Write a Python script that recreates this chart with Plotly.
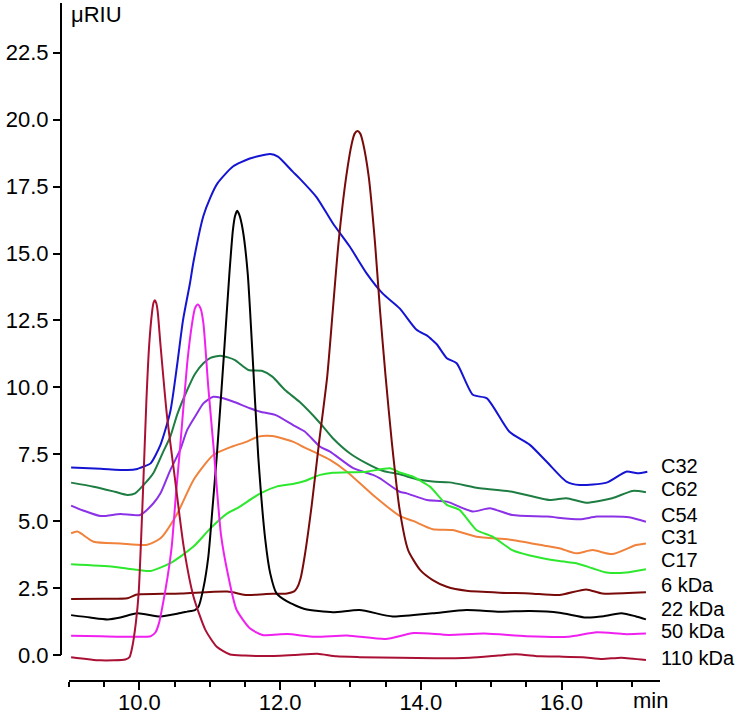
import plotly.graph_objects as go

# ---------------- data ----------------
c32_t = [9.03, 9.45, 9.83, 9.97, 10.06, 10.16, 10.3, 10.44, 10.54, 10.62, 10.72, 10.77, 10.91, 11.01, 11.11, 11.33,
         11.57, 11.86, 11.97, 12.18, 12.28, 12.52, 12.75, 12.99, 13.23, 13.46, 13.7, 13.94, 14.09, 14.17, 14.23, 14.37,
         14.51, 14.74, 14.94, 15.26, 15.55, 15.79, 16.07, 16.26, 16.64, 16.92, 17.08, 17.22]
c32_v = [7.01, 6.96, 6.91, 6.95, 7.04, 7.16, 7.85, 9.1, 10.9, 12.5, 13.9, 14.7, 16.4, 17.1, 17.62, 18.25,
         18.55, 18.72, 18.62, 18.06, 17.8, 17.1, 16.13, 15.26, 14.26, 13.5, 12.95, 12.15, 11.93, 11.75, 11.6, 11.09,
         10.9, 9.72, 9.59, 8.34, 7.85, 7.22, 6.48, 6.35, 6.44, 6.85, 6.79, 6.85]

c62_t = [9.03, 9.35, 9.65, 9.83, 9.94, 10.11, 10.2, 10.34, 10.44, 10.54, 10.68, 10.79, 10.91, 11.01, 11.15, 11.26,
         11.36, 11.55, 11.74, 11.89, 12.07, 12.28, 12.57, 12.75, 12.99, 13.23, 13.46, 13.7, 13.94, 14.17, 14.41,
         14.84, 15.3, 15.83, 16.07, 16.35, 16.72, 17.01, 17.2]
c62_v = [6.44, 6.29, 6.1, 5.98, 6.04, 6.5, 6.8, 7.6, 8.16, 9.0, 9.9, 10.5, 10.9, 11.1, 11.18, 11.12,
         11.02, 10.65, 10.62, 10.4, 9.9, 9.45, 8.66, 8.1, 7.54, 7.16, 6.88, 6.75, 6.57, 6.48, 6.45,
         6.23, 6.1, 5.79, 5.86, 5.69, 5.86, 6.13, 6.08]

c54_t = [9.03, 9.2, 9.45, 9.73, 10.01, 10.2, 10.3, 10.44, 10.58, 10.68, 10.82, 10.91, 11.05, 11.18, 11.33, 11.57,
         11.72, 11.93, 12.18, 12.35, 12.57, 12.71, 13.04, 13.32, 13.42, 13.7, 13.8, 14.09, 14.37, 14.74, 14.98,
         15.3, 15.79, 16.26, 16.5, 16.96, 17.2]
c54_v = [5.58, 5.4, 5.19, 5.27, 5.23, 5.67, 6.04, 6.91, 7.66, 8.41, 9.03, 9.4, 9.65, 9.6, 9.47, 9.22,
         9.09, 8.97, 8.6, 8.35, 7.78, 7.6, 6.98, 6.73, 6.6, 6.1, 6.04, 5.79, 5.73, 5.36, 5.48,
         5.23, 5.17, 5.07, 5.17, 5.15, 4.98]

c31_t = [9.03, 9.12, 9.35, 9.73, 10.11, 10.3, 10.54, 10.77, 11.05, 11.33, 11.53, 11.69, 11.89, 12.18, 12.35, 12.52,
         12.71, 12.95, 13.32, 13.7, 13.89, 14.17, 14.45, 14.79, 15.3, 15.79, 15.97, 16.21, 16.44, 16.72, 17.06, 17.2]
c31_v = [4.55, 4.61, 4.23, 4.17, 4.12, 4.36, 5.29, 6.54, 7.47, 7.8, 7.97, 8.16, 8.18, 7.97, 7.75, 7.54,
         7.29, 6.85, 5.98, 5.2, 5.01, 4.7, 4.67, 4.42, 4.3, 4.07, 3.99, 3.8, 3.92, 3.77, 4.11, 4.17]

c17_t = [9.03, 9.63, 9.91, 10.16, 10.44, 10.77, 11.01, 11.25, 11.4, 11.72, 11.96, 12.18, 12.35, 12.57, 12.75, 13.23,
         13.56, 13.7, 13.89, 14.13, 14.37, 14.55, 14.79, 15.02, 15.3, 15.55, 15.97, 16.21, 16.44, 16.64, 16.92, 17.2]
c17_v = [3.39, 3.3, 3.2, 3.14, 3.43, 4.05, 4.73, 5.29, 5.5, 6.04, 6.3, 6.39, 6.5, 6.73, 6.81, 6.85,
         6.98, 6.82, 6.66, 6.29, 5.61, 5.42, 4.67, 4.42, 3.92, 3.72, 3.51, 3.43, 3.24, 3.08, 3.08, 3.2]

k6_t = [9.03, 9.5, 9.83, 9.95, 10.01, 10.6, 11.25, 11.53, 11.8, 12.1, 12.2, 12.24, 12.29, 12.35, 12.45, 12.55,
        12.67, 12.75, 12.83, 12.94, 13.02, 13.06, 13.1, 13.14, 13.18, 13.26, 13.35, 13.42, 13.5, 13.59, 13.7,
        13.82, 13.99, 14.17, 14.37, 14.65, 15.12, 15.55, 15.97, 16.35, 16.58, 17.2]
k6_v = [2.09, 2.1, 2.12, 2.25, 2.27, 2.3, 2.37, 2.24, 2.28, 2.3, 2.38, 2.5, 2.85, 3.7, 5.6, 7.85,
        10.4, 12.89, 15.38, 17.87, 19.12, 19.48, 19.58, 19.48, 19.12, 17.87, 15.38, 12.89, 10.4, 7.91, 5.42,
        3.92, 3.18, 2.8, 2.55, 2.4, 2.33, 2.3, 2.24, 2.45, 2.3, 2.34]

k22_t = [9.03, 9.3, 9.55, 9.73, 9.97, 10.3, 10.55, 10.68, 10.79, 10.84, 10.91, 10.98, 11.04, 11.1, 11.2, 11.28,
         11.33, 11.36, 11.39, 11.42, 11.47, 11.54, 11.61, 11.69, 11.79, 11.86, 11.95, 12.1, 12.35, 12.75, 13.13,
         13.6, 14.17, 14.65, 15.12, 15.55, 15.97, 16.35, 16.6, 16.85, 17.05, 17.2]
k22_v = [1.49, 1.4, 1.33, 1.4, 1.56, 1.44, 1.55, 1.62, 1.68, 1.8, 2.5, 3.67, 5.5, 7.41, 11.15, 14.26,
         15.88, 16.4, 16.6, 16.45, 15.88, 14.26, 11.15, 7.41, 4.3, 3.05, 2.3, 2.0, 1.72, 1.6, 1.68,
         1.44, 1.56, 1.68, 1.62, 1.64, 1.58, 1.4, 1.45, 1.56, 1.45, 1.33]

k50_t = [9.03, 9.45, 9.91, 10.16, 10.23, 10.28, 10.32, 10.4, 10.46, 10.52, 10.58, 10.68, 10.75, 10.79, 10.83, 10.87,
         10.91, 10.98, 11.06, 11.16, 11.26, 11.38, 11.57, 11.75, 12.1, 12.5, 12.95, 13.5, 13.9, 14.4, 14.9, 15.5,
         16.1, 16.5, 16.9, 17.2]
k50_v = [0.72, 0.7, 0.68, 0.7, 0.85, 1.2, 1.7, 2.9, 4.05, 6.0, 7.78, 10.9, 12.4, 12.95, 13.1, 12.95,
         12.4, 10.0, 7.6, 4.5, 3.0, 1.7, 1.0, 0.75, 0.78, 0.68, 0.73, 0.6, 0.82, 0.75, 0.8, 0.7,
         0.68, 0.85, 0.78, 0.8]

k110_t = [9.03, 9.45, 9.8, 9.86, 9.9, 9.95, 9.99, 10.05, 10.1, 10.14, 10.18, 10.2, 10.22, 10.24, 10.26, 10.3,
          10.39, 10.51, 10.63, 10.77, 10.94, 11.1, 11.29, 11.5, 11.82, 12.2, 12.53, 12.8, 13.13, 13.7, 14.2, 14.7,
          15.1, 15.35, 15.7, 15.97, 16.3, 16.58, 16.85, 17.2]
k110_v = [-0.08, -0.2, -0.17, -0.08, 0.31, 1.2, 2.3, 6.0, 9.5, 11.6, 12.8, 13.15, 13.25, 13.15, 12.85, 11.6,
          9.0, 6.5, 4.05, 2.18, 0.93, 0.31, 0.02, -0.02, -0.04, 0.0, 0.05, -0.05, -0.08, -0.1, -0.12, -0.1,
          -0.02, 0.03, -0.05, -0.06, -0.08, -0.15, -0.1, -0.19]

series_names = ["C32", "C62", "C54", "C31", "C17", "6 kDa", "22 kDa", "50 kDa", "110 kDa"]
series_t = [c32_t, c62_t, c54_t, c31_t, c17_t, k6_t, k22_t, k50_t, k110_t]
series_v = [c32_v, c62_v, c54_v, c31_v, c17_v, k6_v, k22_v, k50_v, k110_v]
label_y = [7.06, 6.2, 5.23, 4.41, 3.55, 2.62, 1.72, 0.9, -0.11]

y_ticks = [0.0, 2.5, 5.0, 7.5, 10.0, 12.5, 15.0, 17.5, 20.0, 22.5]
x_major = [10.0, 12.0, 14.0, 16.0]
x_minor = [9.0, 9.5, 10.5, 11.0, 11.5, 12.5, 13.0, 13.5, 14.5, 15.0, 15.5, 16.5, 17.0]

# ---------------- styles ----------------
colors = ["#1414D2", "#1E7D42", "#8C32E6", "#F0823C", "#2EE82E", "#780A0A", "#000000", "#F020F0", "#AA1034"]
FONT = "Arial, 'Liberation Sans', sans-serif"

Y_MIN, Y_MAX = -0.934, 24.36

fig = go.Figure()
for name, t, v, c in zip(series_names, series_t, series_v, colors):
    fig.add_trace(go.Scatter(x=t, y=v, mode="lines", name=name,
                             line=dict(color=c, width=2, shape="spline", smoothing=0.6),
                             hoverinfo="skip", showlegend=False))

annotations = []
for name, y in zip(series_names, label_y):
    annotations.append(dict(xref="paper", yref="y", x=1.0, y=y, text=name, showarrow=False,
                            xanchor="left", yanchor="middle", xshift=-1,
                            font=dict(family=FONT, size=20, color="black")))
annotations.append(dict(xref="paper", yref="paper", x=0.0134, y=1.004, text="\u03bcRIU", showarrow=False,
                        xanchor="left", yanchor="top", font=dict(family=FONT, size=22, color="black")))
annotations.append(dict(xref="paper", yref="paper", x=(650 - 61) / 599, y=-(700 - 680) / 677, text="min",
                        showarrow=False, xanchor="center", yanchor="middle",
                        font=dict(family=FONT, size=22, color="black")))

fig.update_layout(
    width=738, height=716,
    margin=dict(l=61, r=78, t=3, b=36, pad=0, autoexpand=False),
    paper_bgcolor="white", plot_bgcolor="white",
    font=dict(family=FONT, size=22, color="black"),
    annotations=annotations,
    shapes=[dict(type="line", xref="paper", yref="y", x0=0, x1=0, y0=0, y1=Y_MAX,
                 line=dict(color="black", width=2))],
    xaxis=dict(domain=[8 / 599, 1], range=[9.0, 17.4], anchor="y", automargin=False,
               showline=True, linecolor="black", linewidth=2, mirror=False,
               ticks="outside", ticklen=8, tickwidth=2, tickcolor="black", ticklabelstandoff=-6,
               tickmode="array", tickvals=x_major, ticktext=["%.1f" % v for v in x_major],
               minor=dict(tickmode="array", tickvals=x_minor, ticks="outside", ticklen=5,
                          tickwidth=2, tickcolor="black", showgrid=False),
               showgrid=False, zeroline=False, tickfont=dict(family=FONT, size=22, color="black")),
    yaxis=dict(domain=[0, 1], range=[Y_MIN, Y_MAX], anchor="free", position=0, automargin=False,
               showline=False, ticks="outside", ticklen=8, tickwidth=2, tickcolor="black",
               tickmode="array", tickvals=y_ticks, ticktext=["%.1f" % v for v in y_ticks],
               showgrid=False, zeroline=False, tickfont=dict(family=FONT, size=22, color="black")),
)

fig.write_html("out.html", config={"displayModeBar": False},
               post_script="document.body.style.margin='0px';document.body.style.overflow='hidden';")
